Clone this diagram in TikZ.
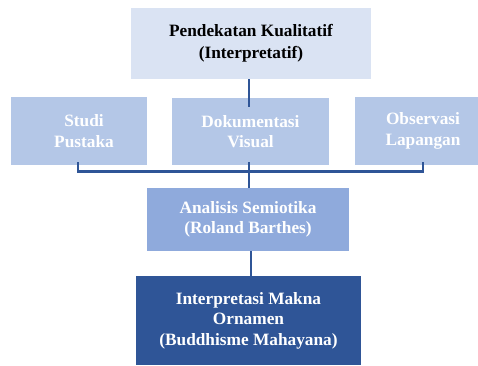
\documentclass[tikz,border=0pt]{standalone}
\usepackage{fontspec}
\setmainfont{Liberation Serif}
\definecolor{paleblue}{HTML}{DAE3F3}
\definecolor{lightblue}{HTML}{B4C7E7}
\definecolor{midblue}{HTML}{8FAADC}
\definecolor{darkblue}{HTML}{2F5597}
\begin{document}
\begin{tikzpicture}[x=1pt,y=-1pt,
	box/.style={inner sep=0pt,align=center,font=\fontsize{17.3}{20.6}\selectfont\bfseries},
	link/.style={draw=darkblue,line width=2.7pt}]
		\clip (0,0) rectangle (478,365);
		\useasboundingbox (0,0) rectangle (478,365);
		\node[box,fill=paleblue,minimum width=240pt,minimum height=71pt,font=\fontsize{17.3}{21.6}\selectfont\bfseries] (pendekatan) at (251,43.5) {Pendekatan Kualitatif\\(Interpretatif)};
		\node[box,fill=lightblue,text=white,minimum width=136pt,minimum height=68pt] (studi) at (79,131) {\hspace*{10pt}Studi\\\hspace*{10pt}Pustaka};
		\node[box,fill=lightblue,text=white,minimum width=157pt,minimum height=67pt] (dokumentasi) at (250.5,131.5) {Dokumentasi\\Visual};
		\node[box,fill=lightblue,text=white,minimum width=136pt,minimum height=68pt] (observasi) at (423,131) {Observasi\\Lapangan};
		\node[box,fill=midblue,text=white,minimum width=202pt,minimum height=63pt] (analisis) at (248,219.5) {Analisis Semiotika\\(Roland Barthes)};
		\node[box,fill=darkblue,text=white,minimum width=225pt,minimum height=89pt] (interpretasi) at (248.5,320.5) {Interpretasi Makna\\Ornamen\\(Buddhisme Mahayana)};
		\draw[link] ([xshift=-2pt]pendekatan.south) -- ([xshift=-2pt,yshift=-9pt]pendekatan.south |- dokumentasi.north);
		\draw[link] ([xshift=-1pt,yshift=3pt]studi.south) -- ++(0,9) -| ([yshift=3pt]observasi.south);
		\draw[link] ([xshift=-1.5pt,yshift=3pt]dokumentasi.south) -- ([xshift=-1.5pt]dokumentasi.south |- analisis.north);
		\draw[link] ([xshift=3pt]analisis.south) -- ([xshift=3pt]analisis.south |- interpretasi.north);
	\end{tikzpicture}
\end{document}
